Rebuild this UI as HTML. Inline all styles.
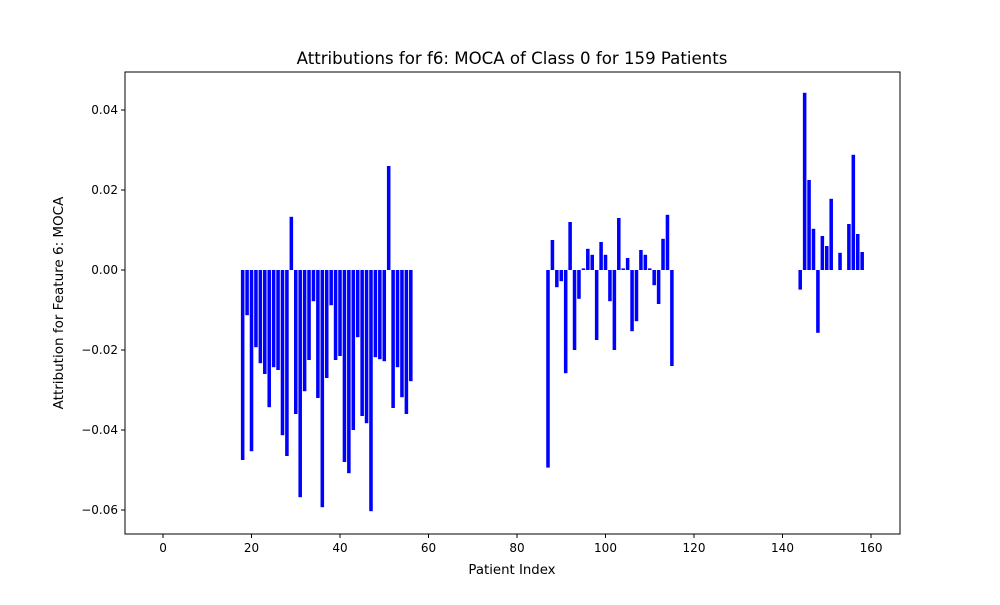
<!DOCTYPE html>
<html><head><meta charset="utf-8"><style>
body{margin:0;background:#fff;font-family:"Liberation Sans","DejaVu Sans",sans-serif;}
svg text{font-family:"DejaVu Sans","Liberation Sans",sans-serif;}
</style></head><body>
<svg id="chart" width="1000" height="600" xmlns="http://www.w3.org/2000/svg">
<rect x="0" y="0" width="1000" height="600" fill="#fff"/>
<text x="512" y="64" font-size="16.6" text-anchor="middle">Attributions for f6: MOCA of Class 0 for 159 Patients</text>
<text x="512" y="574" font-size="13.3" text-anchor="middle">Patient Index</text>
<text transform="translate(63,303) rotate(-90)" font-size="13.5" text-anchor="middle">Attribution for Feature 6: MOCA</text>
<g id="bars"></g>
<g id="axes"></g>
</svg>
<script>
const patientIndex = [18,19,20,21,22,23,24,25,26,27,28,29,30,31,32,33,34,35,36,37,38,39,40,41,42,43,44,45,46,47,48,49,50,51,52,53,54,55,56,
87,88,89,90,91,92,93,94,95,96,97,98,99,100,101,102,103,104,105,106,107,108,109,110,111,112,113,114,115,
144,145,146,147,148,149,150,151,153,155,156,157,158];
const attribution = [-0.0475,-0.0113,-0.0453,-0.0193,-0.0233,-0.026,-0.0343,-0.0243,-0.025,-0.0413,-0.0465,0.0133,-0.036,-0.0568,-0.0303,-0.0225,-0.0078,-0.032,-0.0593,-0.027,-0.0088,-0.0225,-0.0215,-0.048,-0.0508,-0.04,-0.0168,-0.0365,-0.0383,-0.0603,-0.0218,-0.0223,-0.0228,0.026,-0.0345,-0.0243,-0.0318,-0.036,-0.0278,
-0.0494,0.0075,-0.0043,-0.0028,-0.0258,0.012,-0.02,-0.0072,0.0004,0.0053,0.0038,-0.0175,0.007,0.0038,-0.0078,-0.02,0.013,0.0004,0.003,-0.0153,-0.0128,0.005,0.0038,0.0004,-0.0038,-0.0085,0.0078,0.0138,-0.024,
-0.0049,0.0443,0.0225,0.0103,-0.0157,0.0085,0.006,0.0178,0.0043,0.0115,0.0288,0.009,0.0045];
const xTicks = [0,20,40,60,80,100,120,140,160];
const yTicks = [-0.06,-0.04,-0.02,0.00,0.02,0.04];
const yTickLabels = ["\u22120.06","\u22120.04","\u22120.02","0.00","0.02","0.04"];

const L=125,R=900,T=72,B=534;
const xMin=-8.59,xMax=166.55,yMin=-0.066,yMax=0.0495;
const xs=v=>L+(v-xMin)/(xMax-xMin)*(R-L);
const ys=v=>B-(v-yMin)/(yMax-yMin)*(B-T);
const NS="http://www.w3.org/2000/svg";
function mk(tag,attrs,parent){const e=document.createElementNS(NS,tag);for(const k in attrs)e.setAttribute(k,attrs[k]);parent.appendChild(e);return e;}
const bars=document.getElementById('bars'), axes=document.getElementById('axes');
patientIndex.forEach((p,i)=>{
  const v=attribution[i];
  const x0=xs(p-0.4),x1=xs(p+0.4);
  const y0=ys(Math.max(v,0)),y1=ys(Math.min(v,0));
  const r=mk('rect',{x:x0,y:y0,width:x1-x0,height:Math.max(y1-y0,0.5),fill:'#0000ff'},bars);
  
  
});
const frame=mk('rect',{x:L,y:T,width:R-L,height:B-T,fill:'none',stroke:'#000','stroke-width':1},axes);


xTicks.forEach(t=>{
  const x=xs(t);
  const ln=mk('line',{x1:x,x2:x,y1:B,y2:B+4,stroke:'#000'},axes);
  
  
  const tx=mk('text',{x:x,y:B+18,'font-size':12,'text-anchor':'middle'},axes);
  tx.textContent=t;
  
  
});
yTicks.forEach((t,i)=>{
  const y=ys(t);
  const ln=mk('line',{x1:L-4,x2:L,y1:y,y2:y,stroke:'#000'},axes);
  
  
  const tx=mk('text',{x:L-7,y:y+4,'font-size':12,'text-anchor':'end'},axes);
  tx.textContent=yTickLabels[i];
  
  
});
</script>
</body></html>
